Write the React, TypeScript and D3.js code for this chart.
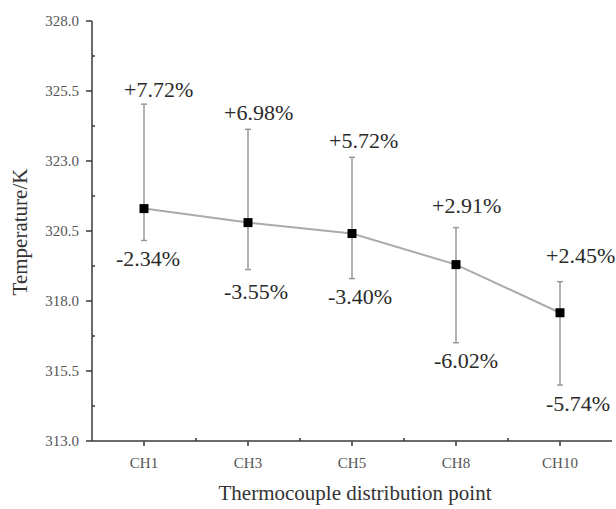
import React from "react";
import * as d3 from "d3";

// Thermocouple positions along the specimen
const categories = ["CH1", "CH3", "CH5", "CH8", "CH10"];
// Mean temperature (K) at each thermocouple
const meanTemp = [321.3, 320.8, 320.41, 319.3, 317.58];
// Upper and lower bounds of the measured spread (K)
const upperTemp = [325.03, 324.13, 323.13, 320.62, 318.69];
const lowerTemp = [320.16, 319.12, 318.8, 316.51, 315.0];
// Deviation labels
const upperLabels = ["+7.72%", "+6.98%", "+5.72%", "+2.91%", "+2.45%"];
const lowerLabels = ["-2.34%", "-3.55%", "-3.40%", "-6.02%", "-5.74%"];
// Y-axis tick values
const yTicks = [313.0, 315.5, 318.0, 320.5, 323.0, 325.5, 328.0];

// Label placement tweaks (pixels): horizontal start offset and vertical gaps
const upperDx = [-20, -24, -23, -24, -14];
const lowerDx = [-28, -24, -24, -22, -14];
const upperGap = [7, 9, 9, 15, 19];
const lowerGap = [25, 29, 25, 25, 26];

const W = 616;
const H = 509;
const M = { left: 92, right: 4, top: 21, bottom: 68 };
const FONT = "Liberation Serif";

export default function App() {
  const x = d3
    .scalePoint<string>()
    .domain(categories)
    .range([M.left, W - M.right])
    .padding(0.5);
  const y = d3
    .scaleLinear()
    .domain([313, 328])
    .range([H - M.bottom, M.top]);

  const step = x.step();
  const minorX = categories.slice(0, -1).map((c) => (x(c) as number) + step / 2);
  const minorY = yTicks.slice(0, -1).map((t) => t + 1.25);

  const line = d3
    .line<number>()
    .x((_, i) => x(categories[i]) as number)
    .y((d) => y(d));

  const axisColor = "#3a3a3a";
  const x0 = M.left;
  const yBase = y(313);

  return (
    <svg
      width={W}
      height={H}
      style={{ position: "absolute", left: 0, top: 0, background: "#fff" }}
    >
      {/* error bars */}
      {categories.map((c, i) => {
        const cx = x(c) as number;
        const y1 = y(upperTemp[i]);
        const y2 = y(lowerTemp[i]);
        return (
          <g key={"err" + c} stroke="#9a9a9a" strokeWidth={1.5}>
            <line x1={cx} x2={cx} y1={y1} y2={y2} />
            <line x1={cx - 3} x2={cx + 3} y1={y1} y2={y1} />
            <line x1={cx - 3} x2={cx + 3} y1={y2} y2={y2} />
          </g>
        );
      })}

      {/* mean line */}
      <path d={line(meanTemp) || ""} fill="none" stroke="#ababab" strokeWidth={2} />

      {/* markers */}
      {categories.map((c, i) => (
        <rect
          key={"pt" + c}
          x={(x(c) as number) - 4.5}
          y={y(meanTemp[i]) - 4.5}
          width={9}
          height={9}
          fill="#000"
        />
      ))}

      {/* deviation labels */}
      {categories.map((c, i) => {
        const cx = x(c) as number;
        return (
          <g key={"lab" + c}>
            <text
              x={cx + upperDx[i]}
              y={y(upperTemp[i]) - upperGap[i]}
              fontFamily={FONT}
              fontSize={22}
              fill="#2a2a2a"
            >
              {upperLabels[i]}
            </text>
            <text
              x={cx + lowerDx[i]}
              y={y(lowerTemp[i]) + lowerGap[i]}
              fontFamily={FONT}
              fontSize={22}
              fill="#2a2a2a"
            >
              {lowerLabels[i]}
            </text>
          </g>
        );
      })}

      {/* y axis */}
      <line x1={x0} x2={x0} y1={M.top} y2={yBase} stroke={axisColor} strokeWidth={1.5} />
      {yTicks.map((t) => (
        <g key={"yt" + t}>
          <line x1={x0 - 6} x2={x0} y1={y(t)} y2={y(t)} stroke={axisColor} strokeWidth={1.5} />
          <text
            x={x0 - 13}
            y={y(t) + 5}
            textAnchor="end"
            fontFamily={FONT}
            fontSize={15}
            fill="#555"
          >
            {t.toFixed(1)}
          </text>
        </g>
      ))}
      {minorY.map((t) => (
        <line
          key={"ym" + t}
          x1={x0}
          x2={x0 + 3}
          y1={y(t)}
          y2={y(t)}
          stroke={axisColor}
          strokeWidth={1.5}
        />
      ))}

      {/* x axis */}
      <line x1={x0} x2={W - M.right} y1={yBase} y2={yBase} stroke={axisColor} strokeWidth={1.5} />
      {categories.map((c) => (
        <g key={"xt" + c}>
          <line
            x1={x(c) as number}
            x2={x(c) as number}
            y1={yBase}
            y2={yBase + 5}
            stroke={axisColor}
            strokeWidth={1.5}
          />
          <text
            x={x(c) as number}
            y={yBase + 27}
            textAnchor="middle"
            fontFamily={FONT}
            fontSize={15}
            fill="#555"
          >
            {c}
          </text>
        </g>
      ))}
      {minorX.map((mx) => (
        <line
          key={"xm" + mx}
          x1={mx}
          x2={mx}
          y1={yBase - 3}
          y2={yBase}
          stroke={axisColor}
          strokeWidth={1.5}
        />
      ))}

      {/* axis titles */}
      <text x={355} y={500} textAnchor="middle" fontFamily={FONT} fontSize={21} fill="#333">
        Thermocouple distribution point
      </text>
      <text
        transform={`translate(27, 232) rotate(-90)`}
        textAnchor="middle"
        fontFamily={FONT}
        fontSize={21}
        fill="#333"
      >
        Temperature/K
      </text>
    </svg>
  );
}
